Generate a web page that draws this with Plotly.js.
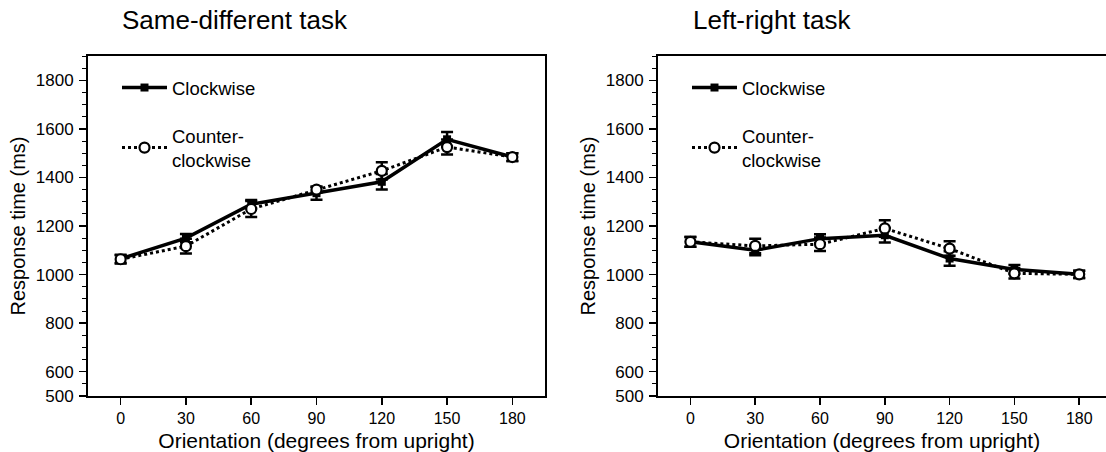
<!DOCTYPE html>
<html>
<head>
<meta charset="utf-8">
<script src="https://cdn.plot.ly/plotly-3.0.1.min.js"></script>
<style>
  html, body { margin: 0; padding: 0; background: #fff; }
  #chart { width: 1106px; height: 452px; }
</style>
</head>
<body>
<div id="chart"></div>
<script>
// ---- data ----
const orientations = [0, 30, 60, 90, 120, 150, 180];
const xTickLabels = ['0', '30', '60', '90', '120', '150', '180'];
const yTickVals = [500, 600, 800, 1000, 1200, 1400, 1600, 1800];

// Same-different task
const sdClockwise = [1065, 1150, 1290, 1335, 1382, 1557, 1484];
const sdClockwiseErr = [17, 17, 17, 27, 32, 30, 16];
const sdCounter = [1063, 1117, 1270, 1350, 1427, 1525, 1484];
const sdCounterErr = [17, 30, 33, 12, 36, 31, 16];

// Left-right task
const lrClockwise = [1135, 1100, 1148, 1162, 1066, 1021, 1001];
const lrClockwiseErr = [20, 20, 18, 30, 30, 18, 15];
const lrCounter = [1135, 1118, 1125, 1190, 1107, 1005, 1001];
const lrCounterErr = [20, 30, 28, 34, 30, 21, 15];

const seriesNames = ['Clockwise', 'Counter-<br>clockwise'];
const panelTitles = ['Same-different task', 'Left-right task'];
const xTitle = 'Orientation (degrees from upright)';
const yTitle = 'Response time (ms)';

// ---- styling ----
const FONT = 'Liberation Sans, Arial, Helvetica, sans-serif';
const W = 1106, H = 452;
const px = v => v / W;
const py = v => 1 - v / H;

function cwTrace(y, err, xa, ya, leg) {
  return {
    x: orientations, y: y, xaxis: xa, yaxis: ya, legend: leg,
    name: seriesNames[0], legendgroup: 'cw', type: 'scatter', mode: 'lines+markers',
    line: { color: '#000', width: 3.5 },
    marker: { symbol: 'square', size: 8, color: '#000' },
    error_y: { type: 'data', array: err, visible: true, color: '#000', thickness: 2.5, width: 6 }
  };
}
function ccwTrace(y, err, xa, ya, leg) {
  return {
    x: orientations, y: y, xaxis: xa, yaxis: ya, legend: leg,
    name: seriesNames[1], legendgroup: 'ccw', type: 'scatter', mode: 'lines+markers',
    line: { color: '#000', width: 3, dash: 'dot' },
    marker: { symbol: 'circle', size: 10, color: '#fff', line: { color: '#000', width: 2.2 } },
    error_y: { type: 'data', array: err, visible: true, color: '#000', thickness: 2.5, width: 6 }
  };
}

const data = [
  cwTrace(sdClockwise, sdClockwiseErr, 'x', 'y', 'legend'),
  ccwTrace(sdCounter, sdCounterErr, 'x', 'y', 'legend'),
  cwTrace(lrClockwise, lrClockwiseErr, 'x2', 'y2', 'legend2'),
  ccwTrace(lrCounter, lrCounterErr, 'x2', 'y2', 'legend2')
];

function xAxis(domain, range, mirror) {
  return {
    domain: domain, range: range, fixedrange: true,
    tickmode: 'array', tickvals: orientations, ticktext: xTickLabels,
    ticks: 'outside', ticklen: 7, tickwidth: 1.5, tickcolor: '#000',
    showline: true, linecolor: '#000', linewidth: 2, mirror: mirror,
    showgrid: false, zeroline: false,
    tickfont: { family: FONT, size: 16, color: '#000' },
    title: { text: xTitle, font: { family: FONT, size: 21, color: '#000' }, standoff: 7 },
    automargin: false
  };
}
function yAxis(domain, anchor, mirror) {
  return {
    domain: domain, range: [500, 1900], anchor: anchor, fixedrange: true,
    tickmode: 'array', tickvals: yTickVals,
    ticks: 'outside', ticklen: 7, tickwidth: 1.5, tickcolor: '#000',
    minor: { tickmode: 'linear', tick0: 500, dtick: 50, ticks: 'outside', ticklen: 4, tickwidth: 1, tickcolor: '#000', showgrid: false },
    showline: true, linecolor: '#000', linewidth: 2, mirror: mirror,
    showgrid: false, zeroline: false,
    tickfont: { family: FONT, size: 17, color: '#000' },
    ticklabelstandoff: 2,
    title: { text: yTitle, font: { family: FONT, size: 20, color: '#000' }, standoff: 5 },
    automargin: false
  };
}

const yDom = [py(396), py(56)];

function legendBox(x0) {
  return {
    x: px(x0), y: py(69), xanchor: 'left', yanchor: 'top',
    bgcolor: 'rgba(0,0,0,0)', borderwidth: 0,
    font: { family: FONT, size: 18.5, color: '#000' },
    tracegroupgap: 21, itemwidth: 45, itemclick: false, itemdoubleclick: false
  };
}

const layout = {
  width: W, height: H,
  margin: { l: 0, r: 0, t: 0, b: 0, pad: 0 },
  paper_bgcolor: '#fff', plot_bgcolor: '#fff',
  showlegend: true,
  font: { family: FONT, color: '#000' },
  xaxis: Object.assign(xAxis([px(88), px(545)], [-15, 195], true), { anchor: 'y' }),
  yaxis: yAxis(yDom, 'x', true),
  xaxis2: Object.assign(xAxis([px(658), 1], [-15, 192.4], true), { anchor: 'y2' }),
  yaxis2: yAxis(yDom, 'x2', false),
  legend: legendBox(117),
  legend2: legendBox(687),
  annotations: [
    { text: panelTitles[0], xref: 'paper', yref: 'paper', x: px(120), y: py(37), xanchor: 'left', yanchor: 'bottom',
      showarrow: false, font: { family: FONT, size: 26, color: '#000' } },
    { text: panelTitles[1], xref: 'paper', yref: 'paper', x: px(691), y: py(37), xanchor: 'left', yanchor: 'bottom',
      showarrow: false, font: { family: FONT, size: 26, color: '#000' } }
  ]
};

Plotly.newPlot('chart', data, layout, { displayModeBar: false, staticPlot: true });
</script>
</body>
</html>
